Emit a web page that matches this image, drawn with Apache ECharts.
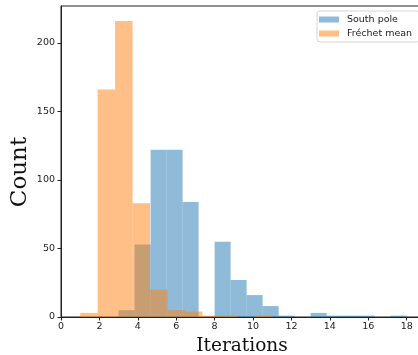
<!DOCTYPE html>
<html>
<head>
<meta charset="utf-8">
<script src="https://cdn.jsdelivr.net/npm/echarts@6/dist/echarts.min.js"></script>
<style>
  html, body { margin: 0; padding: 0; background: #fff; overflow: hidden; }
  #main { position: absolute; left: 0; top: 0; width: 418px; height: 355px; }
</style>
</head>
<body>
<div id="main"></div>
<script>
// histogram data (counts per bin, bins evenly spaced between start and end)
const southStart = 3;
const southEnd = 18;
const southCounts = [5, 53, 122, 122, 84, 0, 55, 27, 16, 8, 1, 0, 3, 1, 1, 1, 0, 1];

const frechetStart = 1;
const frechetEnd = 11;
const frechetCounts = [3, 166, 216, 83, 20, 5, 4, 1, 1, 0, 1];

const xTicks = [0, 2, 4, 6, 8, 10, 12, 14, 16, 18];
const yTicks = [0, 50, 100, 150, 200];

// turn counts into [left, right, count] rows
function toBins(start, end, counts) {
    const w = (end - start) / counts.length;
    return counts.map((c, i) => [start + i * w, start + (i + 1) * w, c]);
}

function renderBar(params, api) {
    const lo = api.coord([api.value(0), api.value(2)]);
    const hi = api.coord([api.value(1), 0]);
    return {
        type: 'rect',
        shape: { x: lo[0], y: lo[1], width: hi[0] - lo[0], height: hi[1] - lo[1] },
        style: api.style()
    };
}

const chart = echarts.init(document.getElementById('main'));
const tickFont = { color: '#222', fontSize: 9.5, fontFamily: 'DejaVu Sans' };

chart.setOption({
    animation: false,
    grid: {
        left: 61, top: 6, width: 362, height: 311,
        outerBoundsMode: 'none',
        show: true, borderColor: '#222', borderWidth: 1
    },
    legend: {
        orient: 'vertical',
        left: 317, top: 11,
        itemWidth: 20, itemHeight: 6, itemGap: 4,
        padding: [3.5, 8, 3.5, 2],
        backgroundColor: '#fff',
        borderColor: '#d6d6d6', borderWidth: 1, borderRadius: 3,
        textStyle: { color: '#222', fontSize: 9.5, fontFamily: 'DejaVu Sans', padding: [0, 0, 0, 3] },
        data: [
            { name: 'South pole', icon: 'rect' },
            { name: 'Fréchet mean', icon: 'rect' }
        ]
    },
    xAxis: {
        type: 'value', min: 0, max: 18.85, interval: 2,
        splitLine: { show: false },
        axisLine: { lineStyle: { color: '#222', width: 1 } },
        axisTick: { length: 3.5, lineStyle: { color: '#222' } },
        axisLabel: Object.assign({ margin: 5, showMaxLabel: false,
            formatter: v => xTicks.includes(v) ? String(v) : '' }, tickFont),
        name: 'Iterations', nameLocation: 'middle', nameGap: 17,
        nameTextStyle: { color: '#111', fontSize: 18.5, fontFamily: 'DejaVu Serif' }
    },
    yAxis: {
        type: 'value', min: 0, max: 227, interval: 50,
        splitLine: { show: false },
        axisLine: { show: true, lineStyle: { color: '#222', width: 1 } },
        axisTick: { show: true, length: 3.5, lineStyle: { color: '#222' } },
        axisLabel: Object.assign({ margin: 6, showMaxLabel: false,
            formatter: v => yTicks.includes(v) ? String(v) : '' }, tickFont)
    },
    graphic: [{
        type: 'text',
        x: 20, y: 172, rotation: Math.PI / 2,
        style: {
            text: 'Count', fill: '#111', fontSize: 23, fontFamily: 'DejaVu Serif',
            align: 'center', verticalAlign: 'middle'
        }
    }],
    series: [
        {
            name: 'South pole', type: 'custom', renderItem: renderBar,
            itemStyle: { color: 'rgba(31,119,180,0.5)' },
            encode: { x: [0, 1], y: 2 },
            data: toBins(southStart, southEnd, southCounts)
        },
        {
            name: 'Fréchet mean', type: 'custom', renderItem: renderBar,
            itemStyle: { color: 'rgba(255,127,14,0.5)' },
            encode: { x: [0, 1], y: 2 },
            data: toBins(frechetStart, frechetEnd, frechetCounts)
        }
    ]
});
</script>
</body>
</html>
